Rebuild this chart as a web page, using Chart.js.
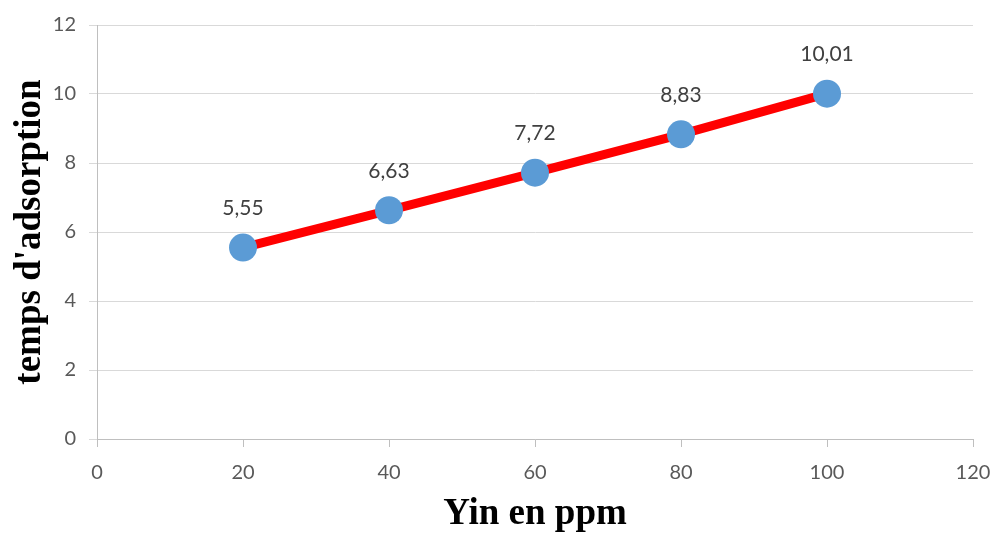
<!DOCTYPE html>
<html>
<head>
<meta charset="utf-8">
<script src="https://cdn.jsdelivr.net/npm/chart.js@4/dist/chart.umd.min.js"></script>
<style>
  html, body { margin: 0; padding: 0; background: #fff; }
  #wrap { width: 992px; height: 533px; }
</style>
</head>
<body>
<div id="wrap"><canvas id="c" width="992" height="533"></canvas></div>
<script>
// Concentration (ppm) and measured adsorption time
const concentrations = [20, 40, 60, 80, 100];
const adsorptionTimes = [5.55, 6.63, 7.72, 8.83, 10.01];
const xTickValues = [0, 20, 40, 60, 80, 100, 120];
const yTickValues = [0, 2, 4, 6, 8, 10, 12];

const points = concentrations.map((x, i) => ({ x: x, y: adsorptionTimes[i] }));

// Writes each value above its marker, with a decimal comma
const valueLabels = {
  id: 'valueLabels',
  afterDatasetsDraw(chart) {
    const ctx = chart.ctx;
    const meta = chart.getDatasetMeta(0);
    ctx.save();
    ctx.font = '21px Lato, "Open Sans", sans-serif';
    ctx.fillStyle = '#404040';
    ctx.textAlign = 'center';
    ctx.textBaseline = 'middle';
    meta.data.forEach((el, i) => {
      const txt = adsorptionTimes[i].toFixed(2).replace('.', ',');
      ctx.fillText(txt, el.x, el.y - 39);
    });
    ctx.restore();
  }
};

const tickFont = { family: 'Lato, "Open Sans", sans-serif', size: 20 };
const titleFont = { family: '"Liberation Serif", "Times New Roman", serif', size: 37, weight: 'bold', lineHeight: 1 };

new Chart(document.getElementById('c'), {
  type: 'line',
  data: {
    datasets: [{
      data: points,
      borderColor: '#ff0000',
      borderWidth: 9,
      pointRadius: 14,
      pointHoverRadius: 14,
      pointBackgroundColor: '#5b9bd5',
      pointBorderColor: '#5b9bd5',
      pointBorderWidth: 0,
      tension: 0
    }]
  },
  options: {
    responsive: false,
    animation: false,
    layout: { padding: { top: 24, right: 19, left: 0, bottom: 0 } },
    plugins: { legend: { display: false }, tooltip: { enabled: false } },
    scales: {
      x: {
        type: 'linear',
        min: 0, max: 120,
        afterBuildTicks(scale) { scale.ticks = xTickValues.map(v => ({ value: v })); },
        afterFit(scale) { scale.height = 94; scale.paddingLeft = 0; scale.paddingRight = 0; },
        border: { color: '#bfbfbf', width: 1 },
        grid: { drawOnChartArea: false, drawTicks: true, tickLength: 8, color: '#bfbfbf' },
        ticks: { color: '#595959', font: tickFont, padding: 14, maxRotation: 0 },
        title: {
          display: true, text: 'Yin en ppm', color: '#000',
          font: titleFont, padding: { top: 0, bottom: 0 }
        }
      },
      y: {
        min: 0, max: 12,
        afterBuildTicks(scale) { scale.ticks = yTickValues.map(v => ({ value: v })); },
        afterFit(scale) { scale.width = 97; },
        border: { color: '#bfbfbf', width: 1 },
        grid: { color: '#d9d9d9', tickLength: 8, drawTicks: true },
        ticks: { color: '#595959', font: tickFont, padding: 13 },
        title: {
          display: true, text: "temps d'adsorption", color: '#000',
          font: titleFont, padding: { top: 12, bottom: 0 }
        }
      }
    }
  },
  plugins: [valueLabels]
});
</script>
</body>
</html>
